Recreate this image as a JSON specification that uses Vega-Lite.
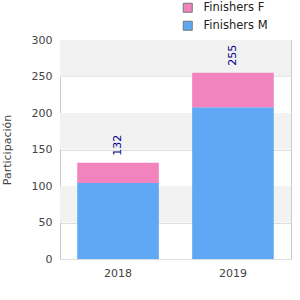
{
  "$schema": "https://vega.github.io/schema/vega-lite/v6.json",
  "autosize": {"type": "none"},
  "width": 231,
  "height": 219,
  "padding": {"left": 60, "top": 40, "right": 9, "bottom": 41},
  "config": {
    "font": "DejaVu Sans",
    "view": {"stroke": "#cccccc"},
    "axis": {"labelFont": "DejaVu Sans", "titleFont": "DejaVu Sans"}
  },
  "datasets": {
    "bars": [
      {"year": "2018", "group": "Finishers M", "value": 104},
      {"year": "2018", "group": "Finishers F", "value": 28},
      {"year": "2019", "group": "Finishers M", "value": 208},
      {"year": "2019", "group": "Finishers F", "value": 47}
    ],
    "totals": [
      {"year": "2018", "total": 132},
      {"year": "2019", "total": 255}
    ],
    "bands": [
      {"lo": 50, "hi": 100},
      {"lo": 150, "hi": 200},
      {"lo": 250, "hi": 300}
    ]
  },
  "layer": [
    {
      "data": {"name": "bands"},
      "mark": {"type": "rect", "color": "#f2f2f2"},
      "encoding": {
        "y": {"field": "lo", "type": "quantitative", "scale": {"domain": [0, 300]},
          "axis": {"title": "Participación", "values": [0, 50, 100, 150, 200, 250, 300], "tickCount": 7, "labelOverlap": false, "ticks": false, "domain": false, "gridColor": "#dddddd", "labelColor": "#444444", "labelFontSize": 11, "labelPadding": 8, "titleColor": "#444444", "titleFontSize": 11, "titleFontWeight": "normal", "titlePadding": 19}},
        "y2": {"field": "hi"}
      }
    },
    {
      "data": {"name": "bars"},
      "mark": {"type": "bar"},
      "encoding": {
        "x": {
          "field": "year", "type": "nominal",
          "scale": {"paddingInner": 0.29, "paddingOuter": 0.15},
          "axis": {"title": null, "labelAngle": 0, "ticks": false, "domain": false, "labelColor": "#444444", "labelFontSize": 11, "labelPadding": 8}
        },
        "y": {
          "field": "value", "type": "quantitative", "stack": "zero",
          "scale": {"domain": [0, 300]},
          "axis": {"title": "Participación", "values": [0, 50, 100, 150, 200, 250, 300], "tickCount": 7, "labelOverlap": false, "ticks": false, "domain": false, "gridColor": "#dddddd", "labelColor": "#444444", "labelFontSize": 11, "labelPadding": 8, "titleColor": "#444444", "titleFontSize": 11, "titleFontWeight": "normal", "titlePadding": 19}
        },
        "color": {
          "field": "group", "type": "nominal",
          "scale": {"domain": ["Finishers F", "Finishers M"], "range": ["#f283be", "#5fa8f5"]},
          "legend": {"title": null, "orient": "none", "legendX": 122, "legendY": -38, "symbolType": "square", "symbolSize": 81, "symbolStrokeColor": "#777777", "symbolStrokeWidth": 1, "labelFontSize": 11.5, "labelColor": "#222222", "rowPadding": 4, "labelOffset": 10}
        },
        "order": {"field": "group", "sort": "descending"}
      }
    },
    {
      "data": {"name": "totals"},
      "mark": {"type": "text", "angle": 270, "align": "left", "baseline": "middle", "dx": 7, "color": "#00008b", "fontSize": 11},
      "encoding": {
        "x": {"field": "year", "type": "nominal"},
        "y": {"field": "total", "type": "quantitative"},
        "text": {"field": "total", "type": "quantitative"}
      }
    }
  ]
}
